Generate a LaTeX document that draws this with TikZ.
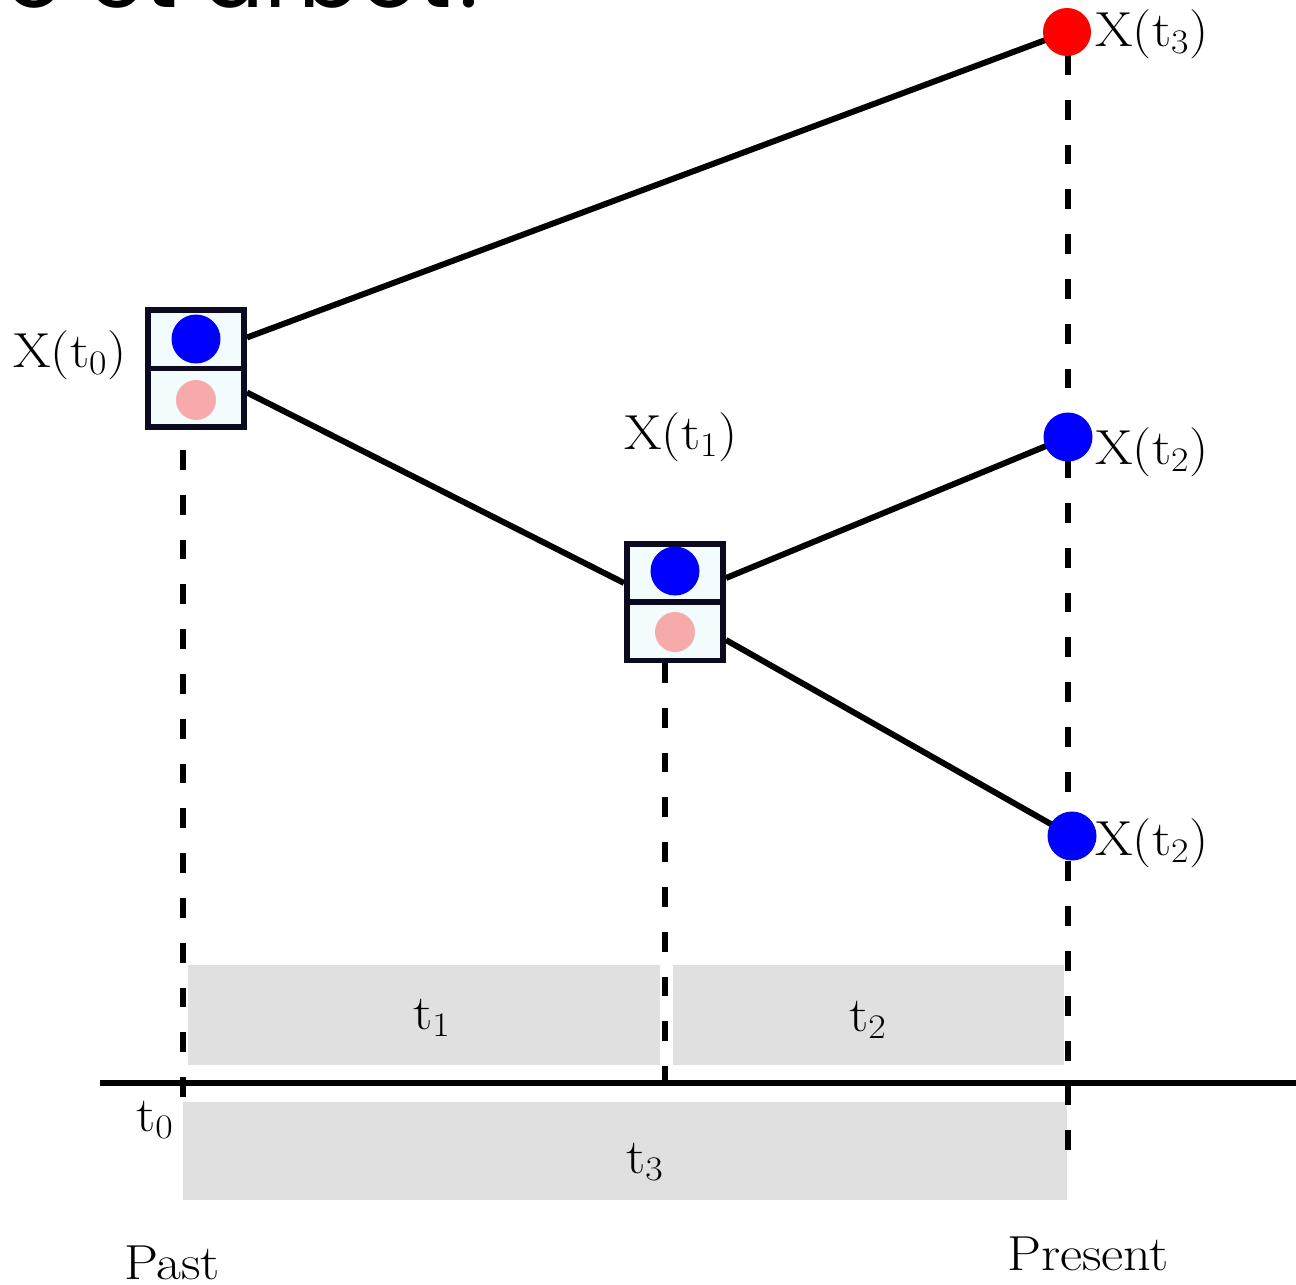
\documentclass[tikz,border=0pt]{standalone}
\usepackage{fontspec}
\newfontfamily\topfont{Poppins}
\newfontfamily\lblfont{Latin Modern Roman}[FakeStretch=1.1]
\usetikzlibrary{calc,backgrounds}
\definecolor{boxfill}{RGB}{242,252,252}
\definecolor{boxline}{RGB}{12,10,30}
\definecolor{pinkdot}{RGB}{247,170,170}
\definecolor{graybar}{RGB}{224,224,224}
\tikzset{
  stepbox/.style={draw=boxline, fill=boxfill, line width=3.4pt, minimum width=1.92cm, minimum height=2.34cm, inner sep=0pt},
  bluedot/.style={circle, fill=blue, minimum size=0.98cm, inner sep=0pt},
  pinkball/.style={circle, fill=pinkdot, minimum size=0.80cm, inner sep=0pt},
  reddot/.style={circle, fill=red, minimum size=0.96cm, inner sep=0pt},
  lbl/.style={font=\lblfont\fontsize{28}{33}\selectfont, inner sep=0pt},
  vdash/.style={line width=3.4pt, dash pattern=on 11.3pt off 14.2pt},
  branch/.style={line width=3.4pt},
  bar/.style={fill=graybar, draw=none},
}
\begin{document}
\begin{tikzpicture}[x=0.02cm, y=-0.02cm]
\useasboundingbox (0,0) rectangle (1296,1285);
% cut-off title text at top
\node[anchor=base east, inner sep=0pt, font=\topfont\fontsize{52}{60}\selectfont] (title) at (500,7) {o et arbot?};
% boxes
\node[stepbox] (A) at (196,368.5) {};
\draw[line width=3.4pt, boxline] (A.west) -- (A.east);
\node[bluedot] (Ab) at (196,339) {};
\node[pinkball] (Ap) at (196,400) {};
\node[stepbox] (B) at (675,602) {};
\draw[line width=3.4pt, boxline] (B.west) -- (B.east);
\node[bluedot] (Bb) at (675,571) {};
\node[pinkball] (Bp) at (675,632) {};
% end dots
\node[reddot] (R3) at (1067,32) {};
\node[bluedot] (D2a) at (1068,437) {};
\node[bluedot] (D2b) at (1072,836) {};
% timeline coordinates
\coordinate (ax0) at (100,1083);
\coordinate (ax1) at (1296,1083);
\coordinate (v0top) at (183,450);
\coordinate (v0bot) at (183,1110);
\coordinate (v1top) at (665,663);
\coordinate (v1bot) at (665,1083);
\coordinate (v2top) at (1068,55);
\coordinate (v2bot) at (1068,1160);
\begin{scope}[on background layer]
  \fill[bar] (188,965) rectangle (660,1065);
  \fill[bar] (673,965) rectangle (1064,1065);
  \fill[bar] (183,1102) rectangle (1067,1200);
  \draw[vdash] (v0top) -- (v0bot);
  \draw[vdash] (v1top) -- (v1bot);
  \draw[vdash] (v2top) -- (v2bot);
  \draw[line width=3.4pt] (ax0) -- (ax1);
  \draw[branch] ($(A.east)+(0,-31)$) -- (R3.center);
  \draw[branch] ($(A.east)+(0,24)$) -- ($(B.west)+(0,-19)$);
  \draw[branch] ($(B.east)+(0,-24)$) -- (D2a.center);
  \draw[branch] ($(B.east)+(0,38)$) -- (D2b.center);
\end{scope}
% labels
\node[lbl] (l0) at (70,355) {X(t\textsubscript{0})};
\node[lbl] (l1) at (681,437) {X(t\textsubscript{1})};
\node[lbl, anchor=west] (l3) at (1095,34) {X(t\textsubscript{3})};
\node[lbl, anchor=west] (l2a) at (1095,452) {X(t\textsubscript{2})};
\node[lbl, anchor=west] (l2b) at (1095,843) {X(t\textsubscript{2})};
\node[lbl] (s1) at (432,1018) {t\textsubscript{1}};
\node[lbl] (s2) at (868,1020) {t\textsubscript{2}};
\node[lbl] (s3) at (645,1162) {t\textsubscript{3}};
\node[lbl] (s0) at (155,1120) {t\textsubscript{0}};
\node[lbl, anchor=base] (past) at (172,1279) {Past};
\node[lbl, anchor=base] (present) at (1088,1270) {Present};
\end{tikzpicture}
\end{document}
